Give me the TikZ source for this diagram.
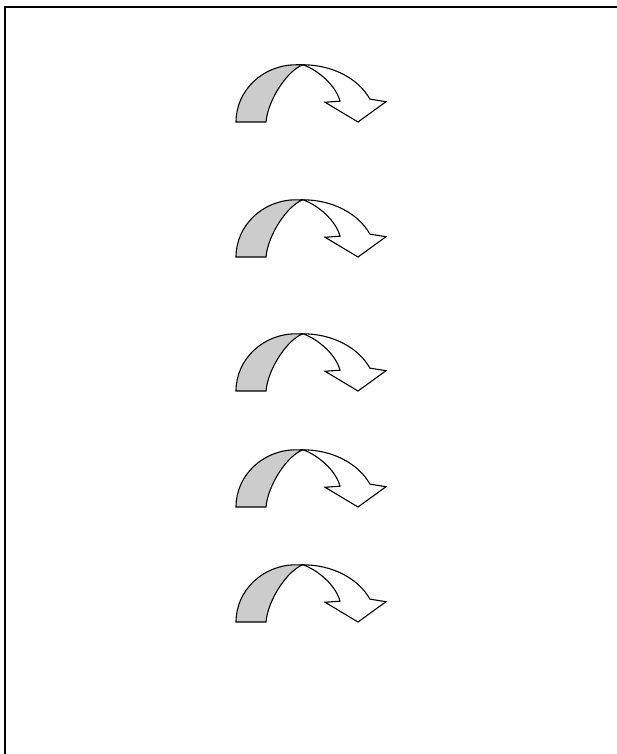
\documentclass[tikz,border=0pt]{standalone}
\begin{document}
\begin{tikzpicture}[x=1pt,y=-1pt,
  arrowline/.style={draw=black,line width=1.1pt,line join=miter},
  backfill/.style={fill={rgb,255:red,204;green,204;blue,204}},
  frontfill/.style={fill=white}]
\useasboundingbox (0,0) rectangle (617,754);
% frame
\coordinate (tl) at (4.5,7.5);
\coordinate (tr) at (617,7.5);
\coordinate (bl) at (4.5,754);
\draw[line width=2pt] (tr) -- (tl) -- (bl);
% curved arrows
\foreach \b in {122,257,391,507,622}{
\begin{scope}[shift={(236,\b)},yscale=-1.04]
  % back (grey) part
  \path[arrowline,backfill] (0,0) arc[start angle=180,end angle=90,x radius=60,y radius=55]
    -- (67,55) .. controls (52,50) and (32,22) .. (30,0) -- cycle;
  % front (white) part with head
  \path[arrowline,frontfill] (67,55) arc[start angle=90,end angle=23.6,x radius=73,y radius=55]
    -- (150,19.5) -- (122,0) -- (89,19) -- (104,20)
    .. controls (100,35) and (82,50) .. (67,55) -- cycle;
\end{scope}}
\end{tikzpicture}
\end{document}
